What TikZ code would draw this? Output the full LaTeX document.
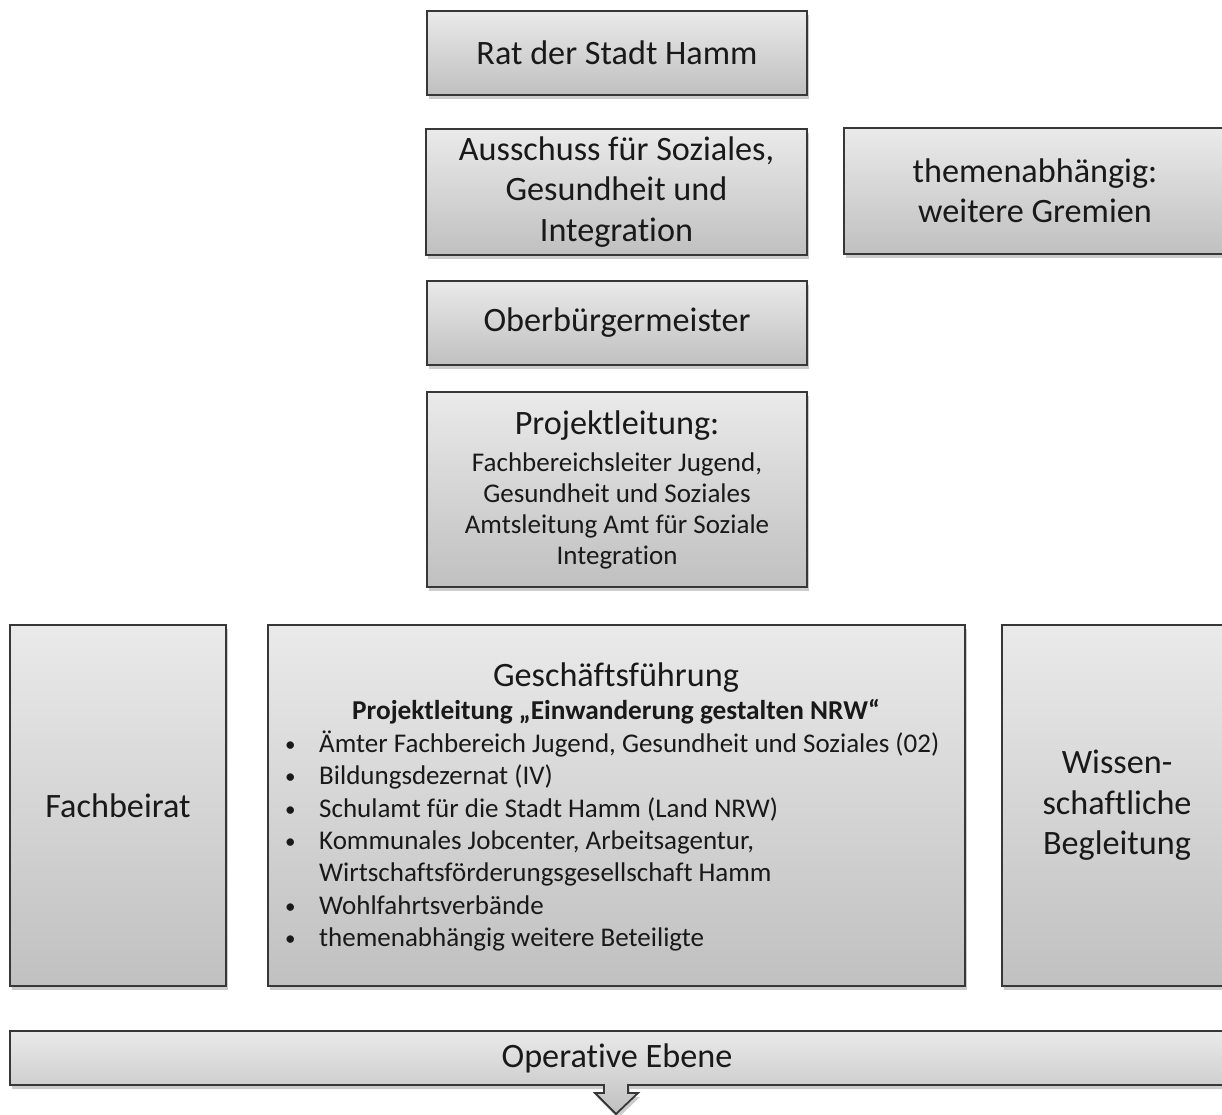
\documentclass[tikz,border=0pt]{standalone}
\usepackage{fontspec}
\setmainfont{Carlito}[Ligatures=NoCommon]
\usetikzlibrary{shadows}
\definecolor{boxtop}{RGB}{234,234,234}
\definecolor{boxbot}{RGB}{192,192,192}
\definecolor{boxline}{RGB}{55,55,55}
\definecolor{txt}{RGB}{25,25,25}
\newcommand{\mybul}{\raisebox{1pt}{\scalebox{0.78}{\textbullet}}}
\tikzset{
  orgbox/.style={draw=boxline, line width=1.8pt, top color=boxtop, bottom color=boxbot,
    drop shadow={shadow xshift=2pt, shadow yshift=-4pt, opacity=0.2, fill=black},
    inner sep=0pt, text=txt, align=center},
  big/.style={font=\fontsize{34.2}{40.5}\selectfont},
  small/.style={font=\fontsize{27}{31}\selectfont},
  lbl/.style={text=txt, inner sep=0pt, align=center},
}
\begin{document}
\begin{tikzpicture}[x=1pt,y=1pt]
\useasboundingbox (0,0) rectangle (1222,-1115);
\clip (0,0) rectangle (1222,-1115);
% top column
\node[orgbox, big, minimum width=380pt, minimum height=84pt] (rat) at (617,-53) {Rat der Stadt Hamm};
\node[orgbox, big, minimum width=381pt, minimum height=126pt] (aus) at (616.5,-192) {Ausschuss für Soziales,\\Gesundheit und\\Integration};
\node[orgbox, big, minimum width=382pt, minimum height=126pt] (them) at (1035,-191) {themenabhängig:\\weitere Gremien};
\node[orgbox, big, minimum width=380pt, minimum height=84pt] (ob) at (617,-323) {Oberbürgermeister};
\node[orgbox, minimum width=380pt, minimum height=195pt] (pl) at (617,-489.5) {};
\node[lbl, big] (plt) at (617,-426) {Projektleitung:};
\node[lbl, small] (pls) at (617,-511) {Fachbereichsleiter Jugend,\\Gesundheit und Soziales\\Amtsleitung Amt für Soziale\\Integration};
% middle row
\node[orgbox, big, minimum width=216pt, minimum height=361pt] (fb) at (118,-805.5) {Fachbeirat};
\node[orgbox, minimum width=697pt, minimum height=361pt] (gf) at (616.5,-805.5) {};
\node[orgbox, big, minimum width=230pt, minimum height=361pt] (ws) at (1117,-805.5) {Wissen-\\schaftliche\\Begleitung};
\node[lbl, big] (gft) at (616,-678) {Geschäftsführung};
\node[lbl, font=\fontsize{27.3}{32}\selectfont\bfseries] (gfs) at (616,-712) {Projektleitung „Einwanderung gestalten NRW“};
\node[lbl, anchor=west, align=left, font=\fontsize{27}{32.3}\selectfont] (gfl) at (285,-843) {%
\begin{tabular}{@{}p{34pt}@{}l@{}}
\mybul & Ämter Fachbereich Jugend, Gesundheit und Soziales (02)\\
\mybul & Bildungsdezernat (IV)\\
\mybul & Schulamt für die Stadt Hamm (Land NRW)\\
\mybul & Kommunales Jobcenter, Arbeitsagentur,\\
 & Wirtschaftsförderungsgesellschaft Hamm\\
\mybul & Wohlfahrtsverbände\\
\mybul & themenabhängig weitere Beteiligte
\end{tabular}};
% operative level with arrow
\path[draw=boxline, line width=1.8pt, top color=boxtop, bottom color=boxbot,
    drop shadow={shadow xshift=2pt, shadow yshift=-4pt, opacity=0.2, fill=black}]
  (10,-1031) -- (1240,-1031) -- (1240,-1085) -- (628,-1085) -- (628,-1093) -- (638,-1093)
  -- (616,-1114) -- (595,-1093) -- (604,-1093) -- (604,-1085) -- (10,-1085) -- cycle;
\node[lbl, big] (op) at (617,-1058) {Operative Ebene};
\end{tikzpicture}
\end{document}
